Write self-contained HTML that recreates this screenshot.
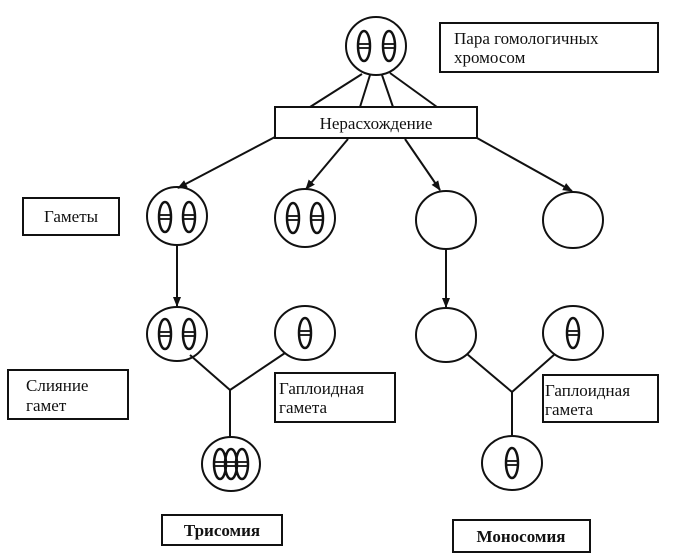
<!DOCTYPE html>
<html><head><meta charset="utf-8"><style>
html,body{margin:0;padding:0;background:#fff}
svg{display:block}
text{font-family:"Liberation Serif",serif;font-size:17px;fill:#111}
</style></head><body>
<svg width="691" height="560" viewBox="0 0 691 560" xmlns="http://www.w3.org/2000/svg">
<defs>
<marker id="ar" markerWidth="10" markerHeight="10" refX="9" refY="5" orient="auto" markerUnits="userSpaceOnUse">
<path d="M0,1 L10,5 L0,9 Z" fill="#111"/>
</marker>
<g id="chr">
<ellipse cx="0" cy="0" rx="6" ry="15" fill="none" stroke="#111" stroke-width="2.5"/>
<line x1="-6" y1="-2" x2="6" y2="-2" stroke="#111" stroke-width="1.8"/>
<line x1="-6" y1="2" x2="6" y2="2" stroke="#111" stroke-width="1.8"/>
</g>
</defs>
<g fill="none" stroke="#111" stroke-width="2">
<!-- boxes -->
<rect x="440" y="23" width="218" height="49"/>
<rect x="275" y="107" width="202" height="31"/>
<rect x="23" y="198" width="96" height="37"/>
<rect x="8" y="370" width="120" height="49"/>
<rect x="275" y="373" width="120" height="49"/>
<rect x="543" y="375" width="115" height="47"/>
<rect x="162" y="515" width="120" height="30"/>
<rect x="453" y="520" width="137" height="32"/>
<!-- circles -->
<ellipse cx="376" cy="46" rx="30" ry="29"/>
<ellipse cx="177" cy="216" rx="30" ry="29"/>
<ellipse cx="305" cy="218" rx="30" ry="29"/>
<ellipse cx="446" cy="220" rx="30" ry="29"/>
<ellipse cx="573" cy="220" rx="30" ry="28"/>
<ellipse cx="177" cy="334" rx="30" ry="27"/>
<ellipse cx="305" cy="333" rx="30" ry="27"/>
<ellipse cx="446" cy="335" rx="30" ry="27"/>
<ellipse cx="573" cy="333" rx="30" ry="27"/>
<ellipse cx="231" cy="464" rx="29" ry="27"/>
<ellipse cx="512" cy="463" rx="30" ry="27"/>
<!-- top lines -->
<line x1="362" y1="74" x2="310" y2="107"/>
<line x1="370" y1="75" x2="360" y2="107"/>
<line x1="382" y1="75" x2="393" y2="107"/>
<line x1="390" y1="73" x2="437" y2="107"/>
<!-- arrows -->
<line x1="275" y1="137" x2="178" y2="188" marker-end="url(#ar)"/>
<line x1="348" y1="139" x2="306" y2="189" marker-end="url(#ar)"/>
<line x1="405" y1="139" x2="440" y2="190" marker-end="url(#ar)"/>
<line x1="477" y1="138" x2="572" y2="191" marker-end="url(#ar)"/>
<line x1="177" y1="245" x2="177" y2="306" marker-end="url(#ar)"/>
<line x1="446" y1="249" x2="446" y2="307" marker-end="url(#ar)"/>
<!-- fusion lines -->
<line x1="190" y1="355" x2="230" y2="390"/>
<line x1="285" y1="353" x2="230" y2="390"/>
<line x1="230" y1="390" x2="230" y2="438"/>
<line x1="467" y1="354" x2="512" y2="392"/>
<line x1="555" y1="354" x2="512" y2="392"/>
<line x1="512" y1="392" x2="512" y2="436"/>
</g>
<!-- chromosomes -->
<use href="#chr" x="364" y="46"/><use href="#chr" x="389" y="46"/>
<use href="#chr" x="165" y="217"/><use href="#chr" x="189" y="217"/>
<use href="#chr" x="293" y="218"/><use href="#chr" x="317" y="218"/>
<use href="#chr" x="165" y="334"/><use href="#chr" x="189" y="334"/>
<use href="#chr" x="305" y="333"/>
<use href="#chr" x="573" y="333"/>
<use href="#chr" x="512" y="463"/>
<use href="#chr" x="220" y="464"/><use href="#chr" x="231" y="464"/><use href="#chr" x="242" y="464"/>
<!-- text -->
<text x="454" y="44">Пара гомологичных</text>
<text x="454" y="63">хромосом</text>
<text x="376" y="129" text-anchor="middle">Нерасхождение</text>
<text x="71" y="222" text-anchor="middle">Гаметы</text>
<text x="26" y="391">Слияние</text>
<text x="26" y="411">гамет</text>
<text x="279" y="394">Гаплоидная</text>
<text x="279" y="413">гамета</text>
<text x="545" y="396">Гаплоидная</text>
<text x="545" y="415">гамета</text>
<text x="222" y="536" text-anchor="middle" font-weight="bold">Трисомия</text>
<text x="521" y="542" text-anchor="middle" font-weight="bold">Моносомия</text>
</svg>
</body></html>
